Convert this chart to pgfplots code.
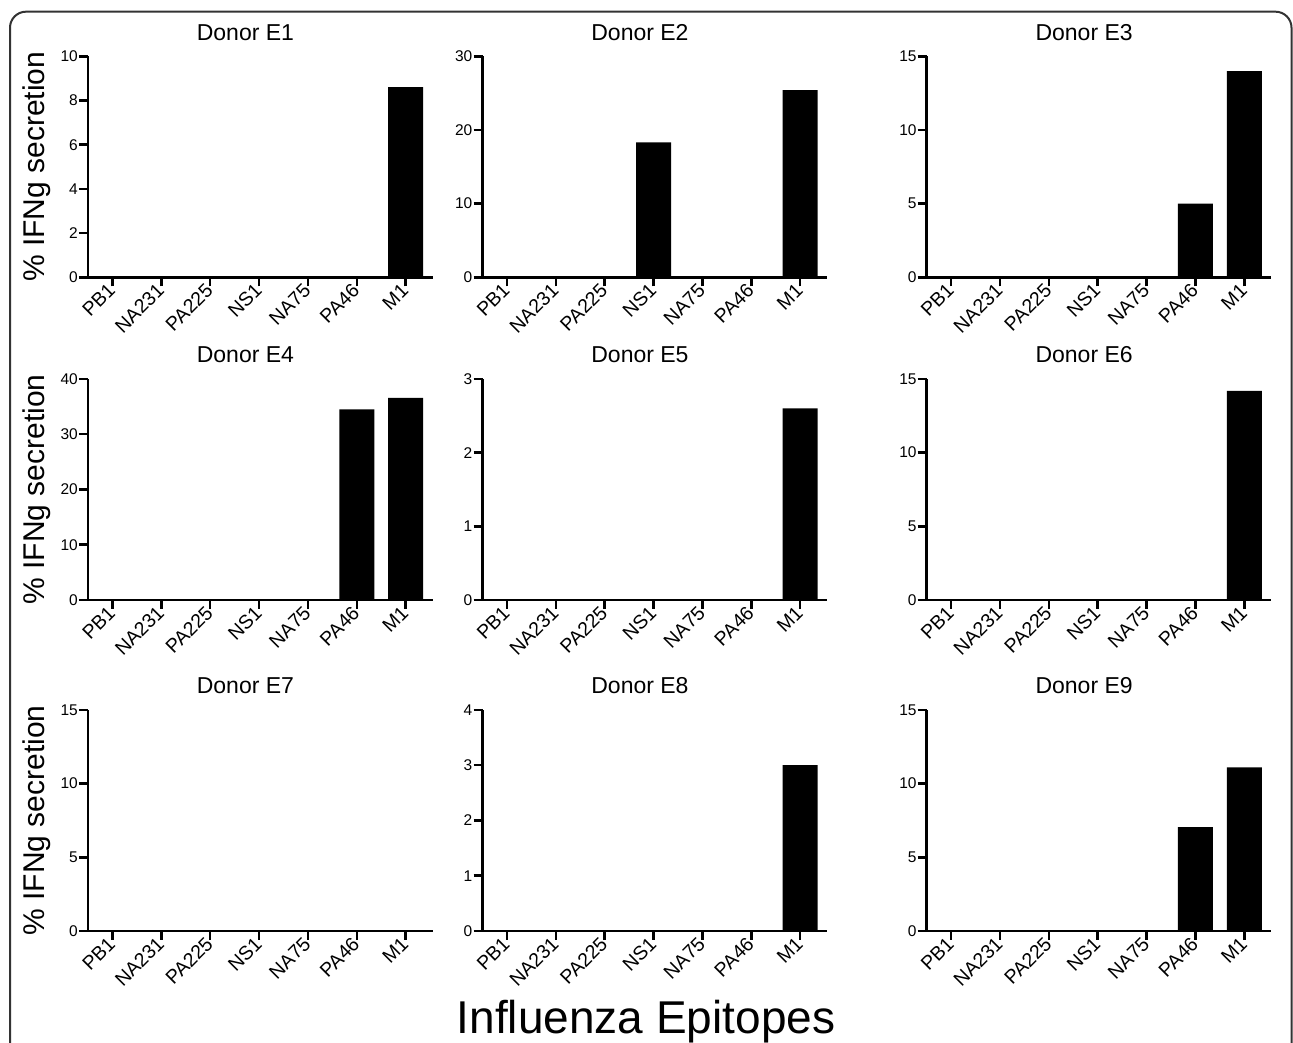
\documentclass[border=0pt]{standalone}
\usepackage{fontspec}
\setmainfont{Liberation Sans}
\usepackage{pgfplots}
\pgfplotsset{compat=1.18}

\newcommand\tickfont{\fontsize{15.5}{18}\selectfont}
\newcommand\xtickfont{\fontsize{19.5}{22}\selectfont}
\newcommand\titlefont{\fontsize{23}{27}\selectfont}
\newcommand\labfont{\fontsize{30}{36}\selectfont}

% shared look of the nine donor panels (1pt = 1px of the reference)
\pgfplotsset{
  donor/.style={
    scale only axis, width=344.5pt, height=221pt,
    axis lines=left, axis line style={-, line width=2.5pt},
    ybar, bar width=35pt,
    xmin=-0.5, xmax=6.55, ymin=0, enlargelimits=false,
    xtick={0,...,6}, xticklabels={PB1,NA231,PA225,NS1,NA75,PA46,M1},
    tick align=outside, major tick length=9pt,
    tick style={line width=2.5pt, black},
    yticklabel style={font=\tickfont, inner sep=1pt},
    xticklabel style={font=\xtickfont, inner sep=1pt, rotate=45, anchor=east},
    /pgf/number format/assume math mode=true,
    title style={font=\titlefont, at={(axis description cs:0.457,1)}, anchor=base, yshift=10pt},
    ylabel style={font=\labfont, at={(axis description cs:-0.148,0.5)}, anchor=center},
  },
  bars/.style={fill=black, draw=none},
}

\begin{document}
\begin{tikzpicture}
\useasboundingbox (0,0) rectangle (1293pt,1043pt);
\draw[line width=2pt, black!80, rounded corners=16pt] (10pt,-10pt) -- (10pt,1031.3pt) -- (1291.5pt,1031.3pt) -- (1291.5pt,-10pt);

% ---- row 1
\begin{axis}[donor, at={(88pt,765.7pt)}, anchor=south west, ymax=10, ytick={0,2,...,10},
  title={Donor E1}, ylabel={\% IFNg secretion}]
\addplot[bars] coordinates {(0,0) (1,0) (2,0) (3,0) (4,0) (5,0) (6,8.6)};
\end{axis}
\begin{axis}[donor, at={(482.5pt,765.7pt)}, anchor=south west, ymax=30, ytick={0,10,20,30},
  title={Donor E2}]
\addplot[bars] coordinates {(0,0) (1,0) (2,0) (3,18.3) (4,0) (5,0) (6,25.4)};
\end{axis}
\begin{axis}[donor, at={(926.7pt,765.7pt)}, anchor=south west, ymax=15, ytick={0,5,10,15},
  title={Donor E3}]
\addplot[bars] coordinates {(0,0) (1,0) (2,0) (3,0) (4,0) (5,5.0) (6,14.0)};
\end{axis}

% ---- row 2
\begin{axis}[donor, at={(88pt,443pt)}, anchor=south west, ymax=40, ytick={0,10,...,40},
  title={Donor E4}, ylabel={\% IFNg secretion}]
\addplot[bars] coordinates {(0,0) (1,0) (2,0) (3,0) (4,0) (5,34.5) (6,36.6)};
\end{axis}
\begin{axis}[donor, at={(482.5pt,443pt)}, anchor=south west, ymax=3, ytick={0,1,2,3},
  title={Donor E5}]
\addplot[bars] coordinates {(0,0) (1,0) (2,0) (3,0) (4,0) (5,0) (6,2.6)};
\end{axis}
\begin{axis}[donor, at={(926.7pt,443pt)}, anchor=south west, ymax=15, ytick={0,5,10,15},
  title={Donor E6}]
\addplot[bars] coordinates {(0,0) (1,0) (2,0) (3,0) (4,0) (5,0) (6,14.2)};
\end{axis}

% ---- row 3
\begin{axis}[donor, at={(88pt,112pt)}, anchor=south west, ymax=15, ytick={0,5,10,15},
  title={Donor E7}, ylabel={\% IFNg secretion}]
\addplot[bars] coordinates {(0,0) (1,0) (2,0) (3,0) (4,0) (5,0) (6,0)};
\end{axis}
\begin{axis}[donor, at={(482.5pt,112pt)}, anchor=south west, ymax=4, ytick={0,1,2,3,4},
  title={Donor E8}]
\addplot[bars] coordinates {(0,0) (1,0) (2,0) (3,0) (4,0) (5,0) (6,3.0)};
\end{axis}
\begin{axis}[donor, at={(926.7pt,112pt)}, anchor=south west, ymax=15, ytick={0,5,10,15},
  title={Donor E9}]
\addplot[bars] coordinates {(0,0) (1,0) (2,0) (3,0) (4,0) (5,7.05) (6,11.1)};
\end{axis}

\node[font=\fontsize{46}{52}\selectfont, anchor=base] at (646pt,9pt) {Influenza Epitopes};
\end{tikzpicture}
\end{document}
